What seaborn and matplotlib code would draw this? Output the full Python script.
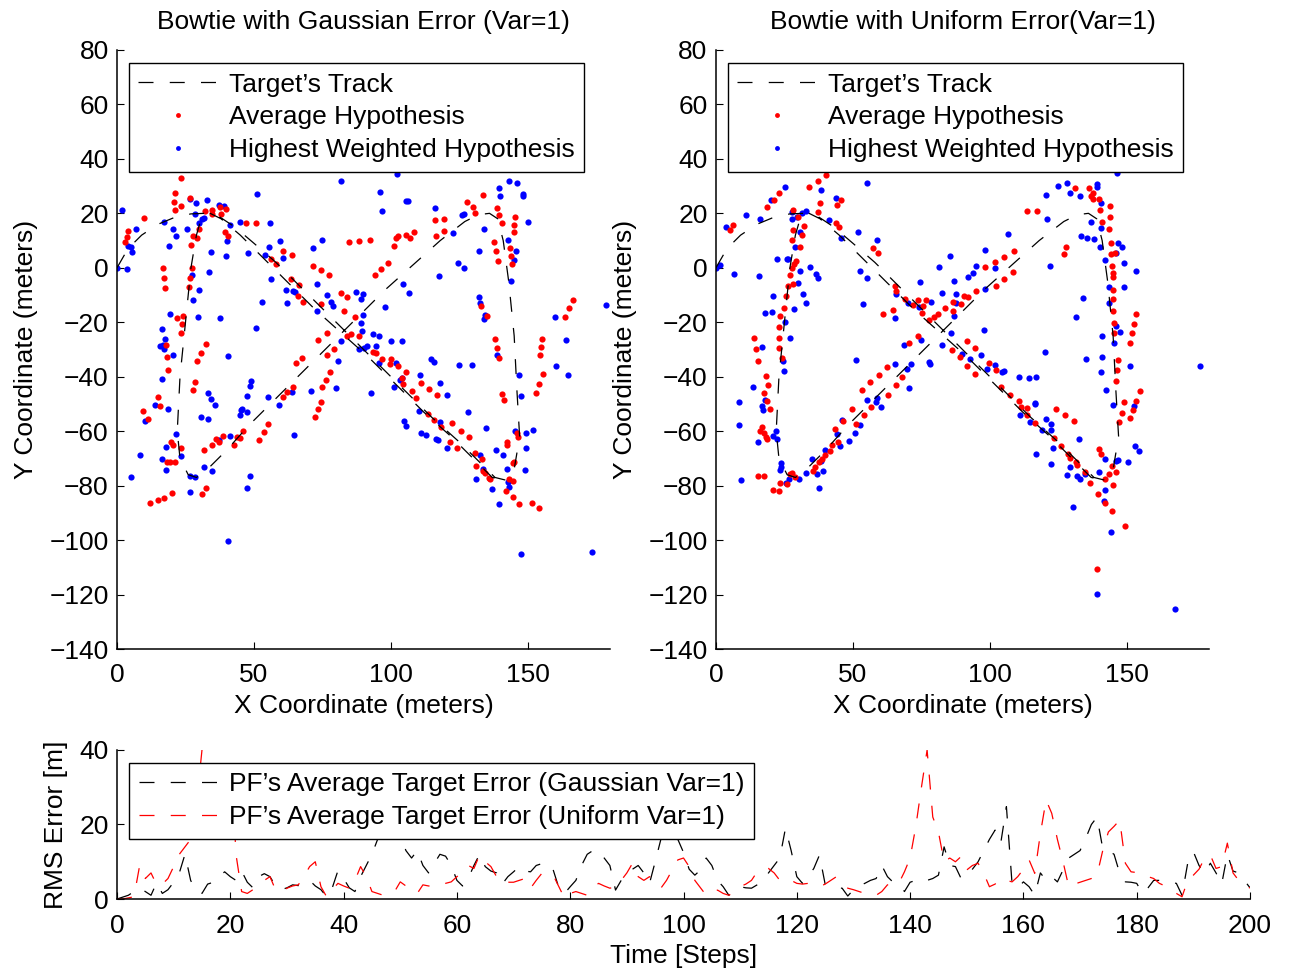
import numpy as np
import pandas as pd
import matplotlib
matplotlib.use("Agg")
import matplotlib.pyplot as plt
from matplotlib.lines import Line2D
import seaborn as sns

# ---- data ----
track_x = [0, 4, 9, 15, 21, 27, 32, 37, 43, 50, 58, 66, 75, 85, 95, 105, 115, 125, 133, 138, 142, 145,
           147, 146, 145, 143, 141, 139, 136, 132, 127, 118, 108, 98, 88, 78, 68, 58, 48, 40, 33, 29,
           26, 23, 22, 23, 25, 27, 29, 31, 34, 38, 45, 53, 62, 72, 82, 92, 102, 112, 122, 131, 137, 141]
track_y = [0, 7, 12, 16, 18.5, 19.8, 20, 19, 15, 9, 2, -6, -15, -25, -35, -45, -55, -64, -72, -77, -78, -74,
           -62, -45, -25, -5, 10, 18, 20, 19.5, 17, 10, 1, -8, -18, -28, -38, -48, -58, -67, -74, -77,
           -76, -70, -60, -40, -20, 0, 12, 19, 20, 18, 12, 4, -5, -15, -24, -33, -43, -53, -62, -71, -77, -78]

gauss_avg = [(23.3,32.9),(21,27.3),(20.7,24.2),(23.4,22.6),(21.2,21.2),(26.7,25.6),(9.8,18.4),(4.1,13.5),(3.5,11.4),(2.8,9.5),
    (32.2,20.7),(34.6,21.3),(34.6,19.8),(37.7,22.2),(39.9,21.7),(38,19.7),(39.3,13.3),(40.4,11.8),(30.1,14.4),(29.1,11.1),
    (27.9,11.5),(27,8.4),(47.2,16.3),(50.7,16.3),(16.8,-0.1),(17.3,-3.9),(17.6,-7.5),(27.3,0.1),(26.7,-3.8),(26.3,-7.1),
    (22,-18.4),(24,-17.6),(23.9,-20.8),(23.5,-24.1),(17.9,-28.4),(18.2,-32.7),(18.7,-37.6),(32.4,-28),(30.7,-31.3),(29.3,-34.1),
    (28.5,-41.9),(27.9,-44.7),(14.8,-47.5),(15.7,-50.8),(56.3,3.1),(58,1.3),(60.6,6.2),(63.9,4.8),(63.7,-4.2),(66.5,-6.4),
    (66.2,-10.4),(67.9,-12.6),(71.5,0.5),(74.4,-0.9),(77.3,-2.8),(74.3,-13.2),(84.6,9.3),(88.4,9.8),(81.6,-9.3),(83.8,-10.8),
    (82.8,-15.7),(86.8,-18.2),(85.5,-24.4),(83.9,-25.2),(88.3,-25),(76.5,-24),(73.2,-26.4),(79.1,-29.7),(76.7,-32.2),(77.7,-38.3),
    (76.2,-41.1),(75,-43.6),(74.3,-49.3),(73.4,-51.9),(65.5,-34.8),(67.7,-33),(64.1,-43.6),(62.2,-45.7),(60.5,-47.4),
    (92.4,10.2),(94.1,-2.8),(96.3,-0.6),(98.9,1.7),(101.1,8),(101.7,11.1),(102.7,11.5),(105.4,12),(107,11.1),(108.4,13),
    (116,17.4),(119.5,18),(116.6,11.8),(119.4,13.5),(127.8,24),(129.8,22.5),(130.6,20.2),(133.5,26.9),(138.9,21.9),(139.5,19.3),
    (140.5,16.6),(145.2,18.5),(145,15.9),(144.8,13),(137.6,9.3),(138.3,6),(139.2,2.4),(143.5,7.2),(143.7,4.4),(144.1,1.5),
    (132.8,-14),(135,-17.6),(137.9,-26.1),(138.6,-29.3),(139.5,-33.2),(155.3,-26.1),(154.7,-29),(154.3,-32.2),(155.4,-38.9),
    (154.1,-42.7),(153.1,-46),(140.5,-46.4),(141.2,-48.7),(166.6,-11.9),(165,-14.9),(163.6,-18.1),(93.5,-30.8),(94.4,-31.3),
    (96.8,-33.5),(99.9,-33.5),(99.6,-35.4),(102.7,-36),(105.4,-38.2),(103.9,-40.5),(104.3,-42.7),(107.6,-45.2),(110.9,-42.3),
    (114,-44.6),(117,-46.6),(109.3,-47.9),
    (9.4,-52.6),(11.2,-55.7),(72.3,-54.7),(55.2,-57.3),(53.5,-60.3),(51.8,-63.3),(45.9,-60.1),(44.9,-62.5),(43.9,-62.3),
    (42.8,-65),(38.7,-61.9),(36.2,-62.8),(37.3,-63.9),(34.8,-65.2),(31.7,-66.8),(19.6,-64),(20.4,-65.2),(23.4,-66.3),
    (18.2,-71.5),(19.4,-71.5),(21,-71.5),(20.1,-82.7),(17.2,-84.7),(14.9,-85.4),(12.2,-86.4),(32.4,-81),(30.9,-83.2),
    (113.5,-53.7),(115.7,-56),(118.3,-58.3),(122.4,-57.1),(121.7,-64),(124.1,-66),(125.7,-60.1),(128.5,-62.3),(130.8,-68.2),
    (133.3,-70.4),(131.2,-72.9),(133.8,-74.8),(134.3,-75.4),(135.8,-77.2),(136.1,-77.6),(142.2,-64),(142.5,-65),(145.9,-60.5),
    (146.5,-62.3),(145,-71.2),(144.7,-71.7),(143.2,-77.6),(144.7,-78.4),(142.1,-82),(144.7,-84.2),(146.9,-86.7),(151.5,-86.3),
    (153.9,-88.1)]

gauss_best = [(2,21.4),(0,0),(3.7,-0.4),(3.9,8.1),(5.2,7.8),(5.5,5.8),(7.1,14.2),(17.3,17),(20.6,14.1),(21.7,11.8),
    (19.1,8.1),(25.5,14.2),(26.8,25.2),(29,23.7),(32.7,24.8),(28.5,19.7),(30,16.4),(30.9,17.9),(31.7,18.2),(37.2,23.1),
    (39.1,22.6),(41.2,15.7),(40.2,9.9),(34.4,5.8),(39.8,4.4),(33.7,-1.6),(45,16.8),(55.9,16.5),(51.2,27),(81.6,31.9),
    (48,5.4),(59.4,9.8),(55.4,7.6),(53.9,4.7),(60.5,3.5),(56.3,-4.2),(61.7,-8),(64.4,-8.4),(65,-8.9),(61.9,-12.9),
    (71.6,7.3),(74.9,10.2),(73,-6.1),(76.5,-9.9),(78,-12.7),(78.8,-14),(73,-15.7),(87.3,-8.9),(88.3,-29.7),(52.8,-12.6),
    (27.2,-2.8),(30.1,-8.2),(27.9,-12),(29.6,-17.9),(37.6,-18.5),(50.9,-22),(19.5,-16.9),(16.5,-22.6),(17.7,-26.1),(15.7,-28.8),
    (16.7,-28.5),(17.2,-30),(20.6,-32.2),(40.5,-32.4),(16.6,-40.8),(81.6,-26.8),(80.5,-34.1),(79.9,-44.2),(70.7,-45.3),(64,-45.7),
    (55.1,-47.4),(59,-50.3),(47.6,-47.1),(48.4,-43.3),(49,-41.7),(33.2,-46),(34.4,-48.1),(35.6,-50.3),(14,-50.4),(18.8,-51.9),
    (45.6,-51.9),
    (102.1,34.5),(96.1,28),(96.6,20.7),(105.6,24.4),(106.2,24.7),(116.1,21.9),(126.1,19.5),(126.7,19.8),(122.6,12.9),
    (139.3,29.3),(140,26.4),(143,31.8),(146,31.3),(148.1,27.2),(148.1,26.2),(150,16.9),(133.9,14.4),(132.3,6.1),(142.6,10.3),
    (145.5,6.1),(144.9,2.8),(143.9,-4.8),(124.6,1.8),(126.7,-0.2),(117.6,-3.1),(104.5,-6),(106.5,-9.4),(97.9,-14.4),(89.7,-9.5),
    (89.2,-11.4),(89.8,-17.5),(89,-20.1),(89.3,-23.3),(93.5,-24.2),(95.6,-25),(99.9,-26.8),(104.1,-26.9),(90.1,-29.6),(91.3,-28.9),
    (94.4,-28.9),(95.6,-35),(102,-35),(103.5,-41.1),(103.9,-40.5),(101.1,-43.8),(92.9,-45.8),(114.5,-33.4),(115.6,-34.5),
    (110.6,-39.5),(118,-42.2),(120.4,-46.6),(124.8,-35.7),(129.5,-35.6),(132.1,-10.9),(132.6,-13),(134.3,-17.4),(134.1,-18.7),
    (138.8,-32.2),(146.6,-39.4),(147.4,-47.1),(160,-17.9),(160.3,-35.9),(163.9,-26.7),(164.5,-39.5),(178.7,-13.8),
    (10.1,-56.3),(30.6,-54.8),(33.3,-55.4),(45.2,-52.3),(45,-54),(47.3,-53),(64.6,-61.3),(21.7,-61.2),(17.9,-65.9),(23.2,-69.2),
    (16.6,-70.4),(17.8,-74.2),(8.5,-68.8),(5.2,-76.9),(26.5,-76.3),(28.5,-77),(31.7,-73.1),(34.5,-74.5),(37.4,-63.3),(41.1,-61.7),
    (26.7,-82.4),(48.5,-76.3),(47.6,-80.9),(40.6,-100.4),
    (110.4,-52.6),(104.9,-56.2),(105.6,-58),(111,-60.8),(112.8,-61.3),(116.5,-62.9),(117.2,-63.1),(120.6,-66.2),(118,-56.7),
    (128.3,-53.1),(134.7,-59),(138.2,-66.9),(141.1,-68.7),(132.6,-68.7),(133.5,-73.9),(131.2,-77.5),(137,-81.3),(139.6,-86.8),
    (142.2,-74),(142.8,-78.5),(143,-80.4),(145.2,-59.8),(149.3,-60.7),(149.4,-66.2),(148.9,-74.3),(152,-59.4),(147.4,-105.2),
    (173.5,-104.4)]

unif_avg = [(43.2,36.2),(40.1,33.9),(37.1,31.7),(34.1,29.5),(23.2,27.4),(21.2,25),(18.5,22.3),(6.2,15.9),(5.2,13.7),(28.2,21.4),
    (29.8,18.6),(28.3,13.8),(27.6,10.2),(32,15.5),(31.5,12),(30.8,7.6),(29.2,2.6),(28.6,1.5),(27.6,-0.1),(27.1,-2.7),
    (28.3,-6),(26.4,-6.7),(25.4,-10.5),(24.7,-14.9),(23.5,-17.7),(23.2,-21.7),(23.2,-25.6),(23.2,-29.6),(24.2,-33.3),(14,-25.9),
    (14.5,-29.7),(15.2,-34.1),(18.2,-39.7),(19.1,-43),(17.6,-45.9),(19.7,-51.7),(37.1,20.4),(38,23.7),(44.3,22.9),(45.6,25),
    (43.8,16.3),(44.8,14.9),(57.2,7.2),(59,5.3),(65.3,-6.6),(65.9,-8.4),(69.1,-11.5),(72,-13.8),(73.8,-11.9),(75.7,-14),
    (76.6,-11.9),(75.2,-16.6),(77.7,-19.2),(79.7,-17.9),(81.1,-16.9),(83.6,-14.9),(86.7,-12.7),(86.5,-15.7),(86.1,-30.1),
    (64.7,-15.4),(61.1,-16.9),(73.6,-25.2),(70.6,-27.8),(68,-40.1),(65.6,-43.2),(62.4,-36.4),(59.5,-39.2),(56.4,-42),(53.5,-44.8),
    (49.5,-51.9),(56.6,-51.2),
    (113.4,20.9),(117.1,20.7),(131,29.3),(136.3,29.3),(137.7,27.4),(137.1,26.2),(137.7,25.3),(139.9,25.2),(140.2,21.3),(140.8,17),
    (143.8,22.8),(143.8,18.6),(143.6,14.3),(144.1,9.1),(144.4,5.1),(145.6,5.4),(144.6,0.7),(144.8,-2),(145,-3.5),(145,-8.1),
    (145,-11.5),(145,-15.7),(145.5,-20.3),(145.2,-24),(146.8,-34),(146.4,-37.7),(146.2,-41.4),(149,-49.4),(153.5,-17),(152.8,-20.6),
    (151.8,-24.1),(151.1,-27.7),(154.7,-45.2),(153.3,-48.8),(108.9,6),(105.2,3.9),(101.8,2.1),(98.4,0.2),(105.2,-4),(102.1,-6.6),
    (94.9,-8.6),(92.1,-10.9),(90.5,-10.5),(89.4,-13.3),(127.8,7.6),(127.1,5.1),(108.3,-1.7),(91.5,-27),(94.5,-29.5),(91.7,-35.9),
    (94.5,-38.9),(99.6,-34.9),(102.2,-37.6),(104,-43.6),(107.3,-46.6),(110.7,-49.1),(111.4,-51.2),(113.6,-51.5),(124.1,-51.8),
    (89.1,-32.6),
    (18.7,-49.1),(16.7,-58.3),(16.2,-60),(17.6,-60.7),(18.1,-62.2),(18.7,-62.8),(15.2,-76.6),(17.5,-76.4),(20.7,-81.5),(22.9,-81.9),
    (23.5,-79.2),(25.8,-79.3),(26.9,-75.7),(27.6,-75.4),(28.8,-76.9),(35.3,-74.5),(36.3,-73.3),(37.7,-71.5),(38.7,-70.1),
    (39.9,-68.8),(41.8,-67.3),(42.5,-65.2),(44.6,-64.1),(43.4,-59.1),(46.4,-56.2),(51.1,-57.4),(54,-54.1),(62.7,-46.6),
    (113.7,-54.1),(116.4,-57),(127.5,-54.2),(130.7,-56.4),(123.4,-62.5),(126,-65.6),(128.7,-68.4),(129.1,-69.9),(131.4,-71.5),
    (131.9,-72.5),(134.6,-75),(136.4,-79.1),(139.8,-66.6),(140.4,-68.5),(144.6,-72.9),(146,-75),(143.6,-75.6),(142.1,-77.5),
    (145.1,-79.7),(139.5,-82.9),(142.1,-86.3),(144.6,-89.4),(149.4,-94.8),(139.1,-110.5),(148.2,-53.2),(147.2,-56.6),
    (152.4,-52.3),(151.1,-55.3)]

unif_best = [(25.1,29.7),(20,25),(11.1,19.5),(15.9,17.9),(3.5,14.8),(1.6,0.9),(0,0),(6.6,-2.4),(15.8,-2.9),(38.3,28.5),
    (27.6,20.4),(27.9,18),(29.6,18.5),(31.5,20.3),(33,20.9),(30.7,13.3),(29,7.5),(26,3.1),(30.8,-1.3),(29.8,-5.5),
    (34.3,0.2),(36.6,-2.3),(37.2,-3.8),(31.9,-9.7),(32.8,-13),(28.6,-15.3),(25.3,-19.9),(27,-25.6),(24.6,-34.3),(24.9,-37.8),
    (22.3,3.2),(26.2,3.2),(21,-10.2),(17.9,-16.6),(20.3,-16.2),(16.9,-29),(13.4,-43.9),(18,-48.5),(8.5,-49.3),(16.7,-50.9),
    (41.4,17.5),(43.7,25.6),(45.7,11.1),(55,31.3),(51.7,13.1),(58.9,10.2),(52.7,-1.1),(55.2,-3.7),(53.8,-13.2),(65.7,-9.8),
    (65.2,-18.5),(70.2,-12.9),(74.1,-14.4),(74.6,-5.1),(78.5,-12.4),(81.6,0.4),(82.5,-9.4),(85.6,4.2),(87,-4.7),(86.9,-17.7),
    (85.8,-24),(82.6,-28.5),(74.7,-26.6),(68.7,-28.5),(71.2,-35.3),(77.7,-34.6),(78.1,-35.4),(69.6,-37.2),(70.3,-44.2),
    (65.5,-35.4),(51.3,-33.8),(55,-48.5),(58.8,-47.9),(60.3,-51.3),
    (146.3,34.8),(125,29.9),(128.1,31.1),(120.4,26.7),(129.4,27.4),(132.9,26.4),(139,30.7),(139.2,29.6),(140.5,23.7),
    (120.7,17.9),(106.6,12.4),(98.4,6.6),(95.1,0.7),(93.9,-2),(92.1,-3.4),(137.1,17),(140.4,14.6),(133.2,11.8),(135.5,11.1),
    (138.2,10.5),(140.1,7.8),(146.6,9.1),(148.1,7.5),(146.2,5.4),(142.2,2.9),(148.9,1.7),(153.2,-1.3),(148.8,-6.9),(143.6,-6.9),
    (143.6,-13),(134.1,-11.1),(131.4,-18.1),(141.1,-25.2),(146.2,-21.5),(147.4,-23.7),(145.3,-27.7),(141,-32.6),(140.6,-38.1),
    (135,-33.5),(151.3,-36.2),(142.3,-44.8),(144.8,-50.3),(152.7,-50.9),(176.9,-36.2),(122,0.7),(98.3,-7.8),(102,0.1),
    (87.8,-9.8),(87.6,-13),(120.1,-31.1),(97.9,-23),(89.7,-31.7),(92.7,-33.4),(96.8,-32.2),(99.1,-37.1),(101.8,-35.6),
    (104.3,-38.3),(105.2,-37.8),(110.5,-40.1),(114.3,-40.3),(116.9,-40),(116.4,-50.1),
    (8.3,-57.9),(9.2,-77.8),(17,-52.2),(20.9,-61.7),(21.9,-59.9),(22.3,-62.8),(15.2,-64.1),(23.7,-71.8),(23.5,-74.2),(23.7,-73.3),
    (25.7,-79.2),(26.8,-77.6),(30.5,-77.6),(32.8,-75.4),(34.9,-70.1),(37,-75.6),(37.6,-81),(38.9,-74.7),(38.2,-70.9),(39.9,-66.9),
    (44.2,-61.1),(46.1,-55.8),(45.4,-65.6),(48.5,-63.5),(50.9,-60.5),(52.6,-57.6),(58.6,-49.4),
    (116.4,-49.8),(111.1,-54.2),(114.7,-56.8),(120.6,-55.7),(122.2,-57.5),(122.5,-59.6),(119,-59.4),(132.4,-62.7),(116.9,-68.4),
    (122.4,-72),(123.1,-66.3),(129.3,-73.1),(128.1,-76.1),(131.8,-76.5),(132.8,-77.6),(134.8,-75.8),(139.9,-75),(142,-70.2),
    (141.9,-81.5),(141.5,-85.5),(146.2,-70.9),(146.9,-70.5),(150.4,-71.5),(153,-65.6),(154.6,-67.3),(130.5,-88),(144.4,-97.1),
    (139.1,-119.7),(167.6,-125.2)]

# RMS error per step (0..200)
err_gauss = [0, 0.5, 1, 2, 3, 2, 1, 4.4, 1.5, 2.5, 4.5, 7, 12, 5, 2, 1.5, 4, 4.5, 6, 7.3,
             6, 5, 7.5, 4.5, 3, 6, 6.8, 6, 3.5, 2.5, 3, 3.8, 3.6, 4, 5, 3.5, 2.5, 0.6, 3, 7.6,
             5.5, 3, 2, 6, 9, 12, 16, 18, 21, 19, 17, 13, 11, 13, 9, 7, 9.5, 12, 11.5, 9,
             5, 3.5, 5.5, 9, 12, 8.7, 7.5, 7, 4, 6, 7.3, 8.7, 7.5, 7.3, 9, 9.5, 9.6, 7.8, 3, 1.5,
             3.3, 5, 9, 12, 13, 13, 11, 9, 2.4, 5, 7, 8, 9, 7, 4.2, 10, 16, 17, 18, 16,
             12.5, 8, 6.4, 7.8, 11, 9, 5, 3.3, 1, 2, 3.3, 3, 2.9, 3.8, 4.6, 7, 9, 11, 19, 13,
             6, 4.2, 6, 8.2, 11.8, 4, 3.5, 3, 2.9, 0.8, 2.5, 3.5, 4.2, 5, 5.5, 9, 6, 4.5, 4.2, 2,
             4.5, 5, 5.5, 5, 5.5, 6.4, 14, 9, 8.7, 5.5, 6, 8, 10, 13, 16, 18.5, 15, 24.8, 4, 3,
             4.6, 3.3, 1, 7, 5, 6, 4.6, 7.8, 11, 12, 13, 16.3, 20, 22, 13.6, 13, 12, 6.9, 4.6, 4.5,
             4.2, 1.5, 3, 5, 5, 5, 4.5, 4.2, 1, 9.6, 12.7, 9, 6.9, 9.6, 7, 4, 12, 7.5, 7, 5,
             3]
err_unif = [0, 0, 0.3, 0.6, 9, 5.5, 7, 3.8, 4, 5.5, 8.7, 12, 14, 16, 25, 40, 48, 50, 52, 48,
            42, 12, 2, 1.5, 2.5, 3.8, 5, 6, 2.4, 2, 2.9, 3.5, 3.8, 6, 8.7, 10, 3.3, 0.6, 2.5, 4.2,
            3.5, 2.9, 5, 8.7, 6, 2, 1.5, 1, 1.5, 2, 4.6, 3.5, 2.5, 1.5, 3.8, 3.5, 3.3, 3.8, 4.2, 4.6,
            6, 7, 9, 8.2, 11.8, 10, 8.7, 6, 4.2, 4.5, 4.5, 5, 5.5, 2.9, 5, 6.9, 6.6, 6.4, 3.3, 0.2,
            1.5, 2, 1.5, 1, 3, 4.2, 3.5, 2.9, 3.3, 5, 7, 9.6, 6, 5, 6, 4.5, 2.9, 5, 7.8, 10.5,
            11, 8.7, 5, 3, 1, 1.5, 2.4, 1.5, 1, 2, 3.3, 4, 5, 7.3, 8, 8.2, 7, 5, 4.5, 5,
            4.2, 4, 4.2, 3.8, 3.3, 4, 5, 6, 4.5, 2.9, 2.5, 2, 1.5, 1.2, 1, 2, 3.8, 4, 4.2, 7.3,
            11, 19.4, 30, 40, 22, 18, 10, 11, 10, 11.4, 7.8, 9, 9.6, 6.9, 3.3, 4, 5.5, 5, 4.6, 6,
            8, 10.5, 6.9, 17.6, 26.6, 23, 16, 10, 3.3, 4, 4.5, 5, 5.5, 6.4, 13, 18, 19.5, 21.2, 9.6, 7.3,
            7.1, 6.9, 6, 5.5, 4.2, 3.5, 2.4, 1.5, 0.6, 5, 6.4, 8, 11, 11.8, 8.2, 8.7, 15, 7, 5, 3.3,
            3]
steps = list(range(len(err_gauss)))

# ---- style ----
sns.set_style("white")
plt.rcParams["font.family"] = ["Liberation Sans", "DejaVu Sans"]
plt.rcParams.update({
    "xtick.direction": "in", "ytick.direction": "in",
    "xtick.major.size": 5, "ytick.major.size": 5,
    "xtick.major.width": 0.8, "ytick.major.width": 0.8,
    "xtick.bottom": True, "ytick.left": True,
    "axes.linewidth": 1.1, "axes.edgecolor": "black",
    "font.size": 19, "text.color": "black", "axes.labelcolor": "black",
    "xtick.color": "black", "ytick.color": "black",
})
FS = 19
DASH = (0, (12, 13))
LEG_KW = dict(fontsize=FS, frameon=True, fancybox=False, framealpha=1, edgecolor="black",
              handlelength=3.0, handletextpad=0.42, labelspacing=0.33, borderpad=0.36,
              borderaxespad=0)

fig = plt.figure(figsize=(12.9, 9.72), dpi=100)
ax1 = fig.add_axes([0.0907, 0.3323, 0.3822, 0.6163])
ax2 = fig.add_axes([0.5550, 0.3323, 0.3822, 0.6163])
ax3 = fig.add_axes([0.0907, 0.0751, 0.8783, 0.1533])

track = pd.DataFrame({"x": track_x, "y": track_y})

def bowtie(ax, avg, best, title):
    a = pd.DataFrame(avg, columns=["x", "y"])
    b = pd.DataFrame(best, columns=["x", "y"])
    sns.lineplot(data=track, x="x", y="y", sort=False, estimator=None, ax=ax,
                 color="black", lw=0.9, linestyle=DASH)
    sns.scatterplot(data=b, x="x", y="y", ax=ax, color="#0000ff", s=20, linewidth=0)
    sns.scatterplot(data=a, x="x", y="y", ax=ax, color="#ff0000", s=20, linewidth=0)
    ax.set_xlim(0, 180)
    ax.set_ylim(-140, 80)
    ax.set_xticks([0, 50, 100, 150])
    ax.set_yticks(np.arange(-140, 81, 20))
    ax.set_xlabel("X Coordinate (meters)", fontsize=FS, labelpad=5)
    ax.set_ylabel("Y Coordinate (meters)", fontsize=FS, labelpad=8)
    ax.set_title(title, fontsize=FS, pad=15)
    ax.tick_params(labelsize=FS, pad=6)
    ax.tick_params(axis="x", pad=10)
    for s in ["top", "right"]:
        ax.spines[s].set_visible(False)
    handles = [
        Line2D([], [], color="black", lw=0.9, linestyle=DASH),
        Line2D([], [], color="#ff0000", marker="o", ms=3.5, lw=0, markeredgewidth=0),
        Line2D([], [], color="#0000ff", marker="o", ms=3.5, lw=0, markeredgewidth=0),
    ]
    labels = ["Target\u2019s Track", "Average Hypothesis", "Highest Weighted Hypothesis"]
    leg = ax.legend(handles, labels, loc="upper left", bbox_to_anchor=(0.024, 0.978), **LEG_KW)
    leg.get_frame().set_linewidth(1.0)

bowtie(ax1, gauss_avg, gauss_best, "Bowtie with Gaussian Error (Var=1)")
bowtie(ax2, unif_avg, unif_best, "Bowtie with Uniform Error(Var=1)")

err = pd.DataFrame({"step": steps, "gauss": err_gauss, "unif": err_unif})
sns.lineplot(data=err, x="step", y="gauss", ax=ax3, color="black", lw=0.9, linestyle=DASH)
sns.lineplot(data=err, x="step", y="unif", ax=ax3, color="#ff0000", lw=0.9, linestyle=DASH)
ax3.set_xlim(0, 200)
ax3.set_ylim(0, 40)
ax3.set_xticks(np.arange(0, 201, 20))
ax3.set_yticks([0, 20, 40])
ax3.set_xlabel("Time [Steps]", fontsize=FS, labelpad=4)
ax3.set_ylabel("RMS Error [m]", fontsize=FS, labelpad=8)
ax3.tick_params(labelsize=FS, pad=6)
ax3.tick_params(axis="x", pad=11)
for s in ["top", "right"]:
    ax3.spines[s].set_visible(False)
h3 = [Line2D([], [], color="black", lw=0.9, linestyle=DASH),
      Line2D([], [], color="#ff0000", lw=0.9, linestyle=DASH)]
leg3 = ax3.legend(h3, ["PF\u2019s Average Target Error (Gaussian Var=1)",
                       "PF\u2019s Average Target Error (Uniform Var=1)"],
                  loc="upper left", bbox_to_anchor=(0.0106, 0.913), **LEG_KW)
leg3.get_frame().set_linewidth(1.0)

fig.savefig("out.png", dpi=100)
